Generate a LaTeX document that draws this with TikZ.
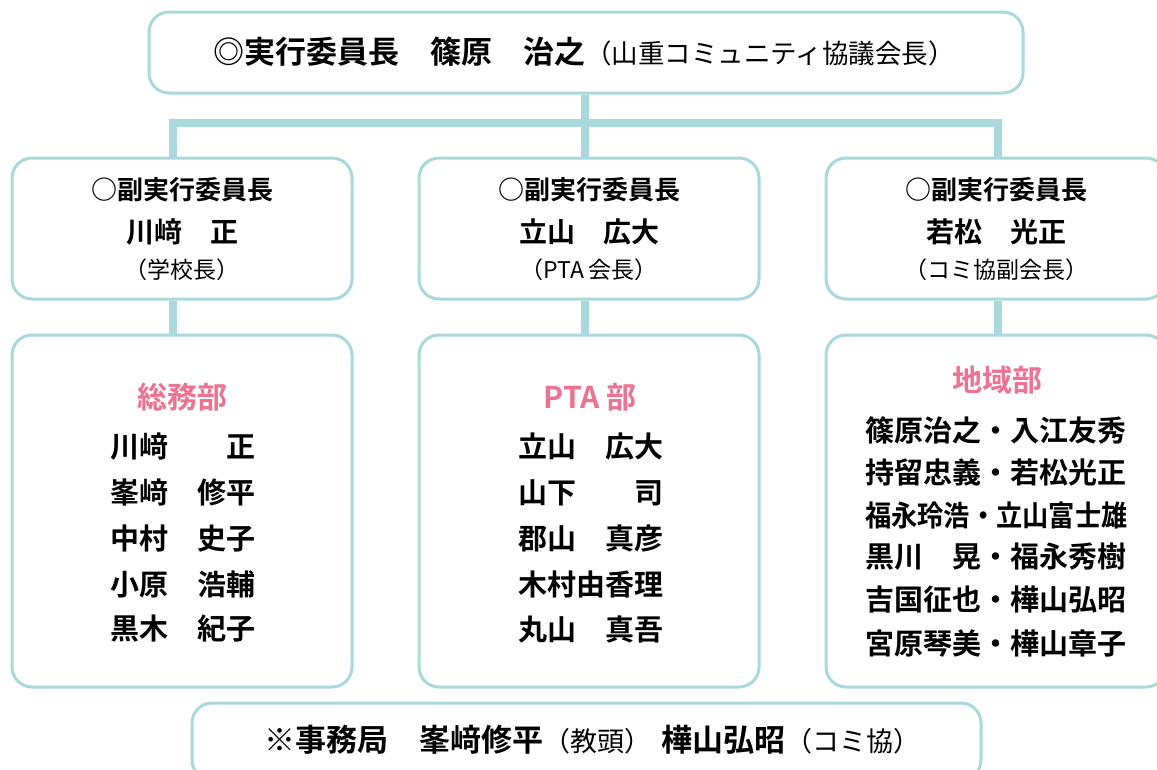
\documentclass[tikz,border=0pt]{standalone}
\usepackage{fontspec}
\setmainfont{Noto Sans CJK JP}[BoldFont={Noto Sans CJK JP Bold}]
\definecolor{lineblue}{HTML}{A9D9DD}
\definecolor{deptpink}{HTML}{EC7391}
\begin{document}
\begin{tikzpicture}[x=1pt,y=-1pt,
  box/.style={draw=lineblue, line width=3pt, rounded corners=20pt, fill=white, inner sep=0pt},
  conn/.style={draw=lineblue, line width=8pt, line join=miter},
  vptitle/.style={font=\bfseries\fontsize{26}{26}\selectfont, inner sep=0pt},
  vpname/.style={font=\bfseries\fontsize{28}{28}\selectfont, inner sep=0pt},
  vpnote/.style={font=\fontsize{23}{23}\selectfont, inner sep=0pt},
  depttitle/.style={font=\bfseries\fontsize{30}{30}\selectfont, text=deptpink, inner sep=0pt},
  member/.style={font=\bfseries\fontsize{29}{29}\selectfont, anchor=west, inner sep=0pt}
]
\useasboundingbox (0,0) rectangle (1157,769);

% boxes
\node[box, minimum width=874pt, minimum height=81pt] (top) at (586,52.5) {};
\node[box, minimum width=340pt, minimum height=141pt] (vp1) at (182,228.5) {};
\node[box, minimum width=340pt, minimum height=141pt] (vp2) at (589,228.5) {};
\node[box, minimum width=340pt, minimum height=141pt] (vp3) at (996,228.5) {};
\node[box, minimum width=340pt, minimum height=352pt] (d1) at (182,511) {};
\node[box, minimum width=340pt, minimum height=352pt] (d2) at (589,511) {};
\node[box, minimum width=340pt, minimum height=352pt] (d3) at (996,511) {};
\node[box, minimum width=789pt, minimum height=77pt] (sec) at (586.5,741.5) {};

% connectors
\coordinate (barL) at (173,123);
\coordinate (barM) at (585,123);
\coordinate (barR) at (998,123);
\draw[conn] (top.south -| barM) -- (barM);
\draw[conn] (barL |- vp1.north) -- (barL) -- (barR) -- (barR |- vp3.north);
\draw[conn] (barM) -- (barM |- vp2.north);
\draw[conn] (vp1.south -| barL) -- (d1.north -| barL);
\draw[conn] (vp2.south -| barM) -- (d2.north -| barM);
\draw[conn] (vp3.south -| barR) -- (d3.north -| barR);

% top text
\node[inner sep=0pt] (toptext) at (584,52) {{\bfseries\fontsize{31}{31}\selectfont ◎実行委員長　篠原　治之}{\fontsize{26.5}{26.5}\selectfont （山重コミュニティ協議会長）}};

% vice chairs
\node[vptitle] (vp1a) at (182,190) {○副実行委員長};
\node[vpname] (vp1b) at (182,232) {川﨑　正};
\node[vpnote] (vp1c) at (182,270) {（学校長）};
\node[vptitle] (vp2a) at (589,190) {○副実行委員長};
\node[vpname] (vp2b) at (589,232) {立山　広大};
\node[vpnote] (vp2c) at (589,270) {（PTA\hspace{4pt}会長）};
\node[vptitle] (vp3a) at (996,190) {○副実行委員長};
\node[vpname] (vp3b) at (996,232) {若松　光正};
\node[vpnote] (vp3c) at (996,270) {（コミ協副会長）};

% departments
\node[depttitle] (d1t) at (182,397) {総務部};
\node[member] (m11) at (110,447) {川﨑　　正};
\node[member] (m12) at (110,493) {峯﨑　修平};
\node[member] (m13) at (110,539) {中村　史子};
\node[member] (m14) at (110,584) {小原　浩輔};
\node[member] (m15) at (110,629) {黒木　紀子};

\node[depttitle] (d2t) at (590,397) {PTA 部};
\node[member] (m21) at (518,447) {立山　広大};
\node[member] (m22) at (518,493) {山下　　司};
\node[member] (m23) at (518,539) {郡山　真彦};
\node[member] (m24) at (518,584) {木村由香理};
\node[member] (m25) at (518,629) {丸山　真吾};

\node[depttitle] (d3t) at (997,380) {地域部};
\node[member] (m31) at (865,430) {篠原治之・入江友秀};
\node[member] (m32) at (865,472) {持留忠義・若松光正};
\node[member] (m33) at (865,515) {\scalebox{0.905}[1]{福永玲浩・立山富士雄}};
\node[member] (m34) at (865,557) {黒川　晃・福永秀樹};
\node[member] (m35) at (865,600) {吉国征也・樺山弘昭};
\node[member] (m36) at (865,643) {宮原琴美・樺山章子};

% secretariat
\node[inner sep=0pt] (sectext) at (592,740) {{\bfseries\fontsize{31}{31}\selectfont ※事務局　峯﨑修平}{\fontsize{27}{27}\selectfont （教頭）}\hspace{10pt}{\bfseries\fontsize{31}{31}\selectfont 樺山弘昭}{\fontsize{27}{27}\selectfont （コミ協）}};
\end{tikzpicture}
\end{document}
